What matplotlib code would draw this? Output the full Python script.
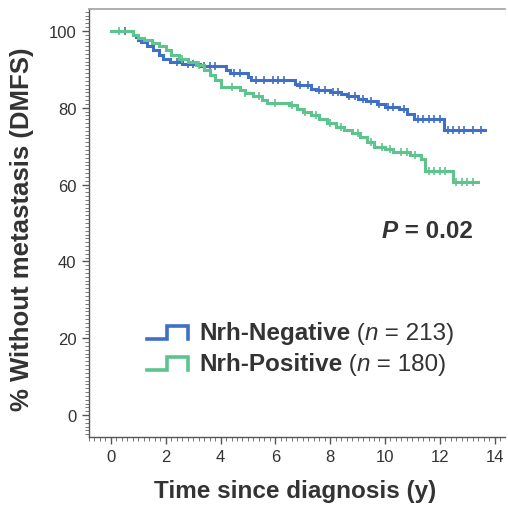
import numpy as np
import matplotlib
matplotlib.use("Agg")
import matplotlib.pyplot as plt
from matplotlib.ticker import MultipleLocator

plt.rcParams['font.family'] = ['Liberation Sans', 'DejaVu Sans']

# ---- data ----
neg_times = [0, 0.81, 0.9, 1.0, 1.1, 1.3, 1.55, 1.75, 1.9, 2.15, 2.6, 3.25, 4.2, 4.35,
             5.0, 5.1, 6.7, 6.8, 7.3, 7.5, 8.0, 8.4, 8.6, 9.0, 9.3, 9.7, 10.0, 10.5,
             10.8, 11.05, 12.15]
neg_surv = [100, 99.0, 98.3, 97.7, 97.0, 96.0, 94.9, 93.8, 92.7, 91.8, 91.4, 90.8, 89.8, 89.0,
            88.0, 87.1, 86.2, 85.8, 85.0, 84.5, 84.0, 83.5, 83.0, 82.3, 81.8, 81.0, 80.3, 79.6,
            78.5, 77.1, 74.3]
neg_end = 13.65
neg_censor = [0.5, 2.4, 2.8, 3.0, 3.4, 3.6, 3.8, 4.5, 4.7, 5.3, 5.6, 5.9, 6.1, 6.3, 6.9, 7.2,
              7.6, 7.8, 8.1, 8.3, 8.7, 8.9, 9.2, 9.5, 9.8, 10.1, 10.3, 10.7, 11.2, 11.4, 11.6,
              11.8, 12.0, 12.3, 12.5, 12.7, 12.9, 13.2, 13.5]

pos_times = [0, 0.81, 1.0, 1.2, 1.5, 1.75, 2.0, 2.2, 2.5, 2.8, 3.1, 3.4, 3.6, 3.8, 4.0, 4.7,
             4.9, 5.2, 5.5, 5.7, 6.5, 6.8, 7.0, 7.3, 7.6, 7.9, 8.2, 8.5, 8.8, 9.1, 9.35, 9.6,
             10.0, 10.3, 10.9, 11.3, 11.45, 12.5]
pos_surv = [100, 99.0, 98.2, 97.6, 96.8, 96.0, 95.0, 93.8, 92.7, 91.8, 91.0, 89.8, 88.5, 87.2,
            85.3, 84.6, 83.9, 83.0, 82.0, 81.2, 80.6, 79.8, 79.0, 78.0, 77.0, 76.0, 74.9, 74.2,
            73.5, 72.5, 71.2, 69.9, 69.2, 68.5, 67.8, 66.6, 63.6, 60.6]
pos_end = 13.4
pos_censor = [0.3, 2.6, 3.2, 4.4, 4.9, 5.4, 6.0, 6.6, 7.1, 7.5, 8.0, 8.4, 9.0, 9.5, 9.9, 10.2,
              10.6, 10.8, 11.1, 11.6, 11.8, 12.0, 12.2, 12.6, 12.8, 13.0, 13.2]

neg_label = ("Nrh-Negative", "213")
pos_label = ("Nrh-Positive", "180")
p_text = "0.02"

x_ticks = [0, 2, 4, 6, 8, 10, 12, 14]
y_ticks = [0, 20, 40, 60, 80, 100]

BLUE = "#3f6fc6"
GREEN = "#5cc48c"
TXT = "#333333"
FS = 17.5

W, H = 508, 506
fig = plt.figure(figsize=(W / 100, H / 100), dpi=100)
ax = fig.add_axes([89 / W, 1 - 438 / H, (505 - 89) / W, (438 - 10) / H])


def draw_km(times, surv, end, censor, color):
    t = list(times) + [end]
    s = list(surv) + [surv[-1]]
    ax.step(t, s, where='post', color=color, lw=2.2, solid_joinstyle='miter')
    idx = np.searchsorted(np.array(times), np.array(censor), side='right') - 1
    cs = np.array(surv)[idx]
    ax.plot(censor, cs, linestyle='none', marker='|', ms=6, mew=1.2, color=color)


draw_km(neg_times, neg_surv, neg_end, neg_censor, BLUE)
draw_km(pos_times, pos_surv, pos_end, pos_censor, GREEN)

ax.set_xlim(-0.8, 14.38)
ax.set_ylim(-5.7, 105.7)
ax.set_xticks(x_ticks)
ax.set_yticks(y_ticks)
ax.xaxis.set_minor_locator(MultipleLocator(0.2))
ax.yaxis.set_minor_locator(MultipleLocator(1))
ax.tick_params(which='major', length=5, width=1.0, color='#555555', labelsize=12,
               labelcolor=TXT, pad=4)
ax.tick_params(which='minor', length=3, width=0.7, color='#777777')
for sp in ['left', 'bottom']:
    ax.spines[sp].set_color('#555555')
    ax.spines[sp].set_linewidth(1.0)
ax.spines['right'].set_visible(False)
ax.spines['top'].set_color('#a0a0a0')
ax.spines['top'].set_linewidth(1.2)

ax.set_xlabel("Time since diagnosis (y)", fontsize=FS, fontweight='bold', color=TXT, va='center')
ax.set_ylabel("% Without metastasis (DMFS)", fontsize=18.5, fontweight='bold', color=TXT, va='center')
ax.xaxis.set_label_coords((295 - 89) / 416, (438 - 492) / 428)
ax.yaxis.set_label_coords((22 - 89) / 416, (438 - 229) / 428)


# pixel helper
def fx(x):
    return x / W


def fy(y):
    return 1 - y / H


def legend_row(y_top, y_bot, color, name, n):
    xs = [147, 167, 167, 188, 188]
    ys = [y_bot, y_bot, y_top, y_top, y_bot]
    fig.add_artist(plt.Line2D([fx(v) for v in xs], [fy(v) for v in ys], color=color, lw=2.6,
                              solid_joinstyle='miter'))
    yc = (y_top + y_bot) / 2
    t1 = fig.text(fx(199), fy(yc), name, fontsize=FS, fontweight='bold', color=TXT,
                  va='center', ha='left')
    t2 = ax.annotate(" (", xy=(1, 0), xycoords=t1, va='bottom', ha='left', fontsize=FS, color=TXT)
    t3 = ax.annotate("n", xy=(1, 0), xycoords=t2, va='bottom', ha='left', fontsize=FS,
                     style='italic', color=TXT)
    ax.annotate(" = " + n + ")", xy=(1, 0), xycoords=t3, va='bottom', ha='left', fontsize=FS,
                color=TXT)


legend_row(327, 340, BLUE, *neg_label)
legend_row(358, 371, GREEN, *pos_label)

p1 = fig.text(fx(382), fy(232), "P", fontsize=FS, fontweight='bold', style='italic', color=TXT,
              va='center', ha='left')
ax.annotate(" = " + p_text, xy=(1, 0), xycoords=p1, va='bottom', ha='left', fontsize=FS,
            fontweight='bold', color=TXT)

fig.savefig("out.png", dpi=100)
